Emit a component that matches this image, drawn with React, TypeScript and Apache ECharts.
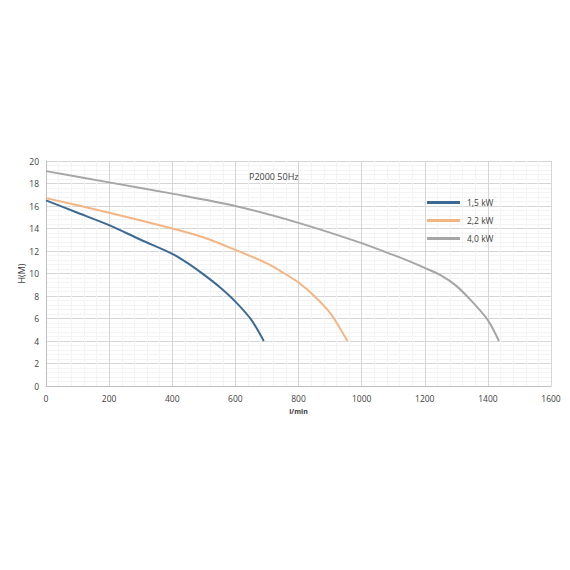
import React, { useEffect, useRef } from "react";
import * as echarts from "echarts";

const seriesNames = ["1,5 kW", "2,2 kW", "4,0 kW"];
const colors = ["#3D6A93", "#F2B584", "#A6A6A6"];

const flow15 = [0, 100, 200, 300, 400, 450, 500, 550, 600, 650, 690];
const head15 = [16.5, 15.4, 14.3, 13.0, 11.75, 10.9, 9.9, 8.8, 7.5, 5.9, 4.0];

const flow22 = [0, 200, 400, 500, 600, 700, 750, 800, 850, 900, 930, 955];
const head22 = [16.7, 15.4, 14.0, 13.2, 12.1, 10.9, 10.1, 9.2, 8.0, 6.5, 5.2, 4.0];

const flow40 = [0, 200, 400, 600, 800, 1000, 1100, 1150, 1200, 1250, 1300, 1350, 1400, 1435];
const head40 = [19.1, 18.1, 17.1, 16.0, 14.5, 12.7, 11.65, 11.1, 10.5, 9.85, 8.9, 7.5, 5.85, 4.0];

const titleText = "P2000 50Hz";
const xName = "l/min";
const yName = "H(M)";

const font = "'Open Sans', 'Noto Sans', sans-serif";

function pairs(xs: number[], ys: number[]) {
  return xs.map((x, i) => [x, ys[i]]);
}

export default function App() {
  const ref = useRef<HTMLDivElement>(null);
  useEffect(() => {
    if (!ref.current) return;
    const chart = echarts.init(ref.current, undefined, { renderer: "svg" });
    const data = [pairs(flow15, head15), pairs(flow22, head22), pairs(flow40, head40)];
    chart.setOption({
      animation: false,
      backgroundColor: "#ffffff",
      title: {
        text: titleText,
        left: 244,
        top: 167,
        textStyle: { fontFamily: font, fontSize: 9, fontWeight: "normal", color: "#404040" },
      },
      legend: {
        orient: "vertical",
        left: 422,
        top: 193,
        itemWidth: 33,
        itemHeight: 3,
        itemGap: 9,
        icon: "rect",
        textStyle: { fontFamily: font, fontSize: 8.5, color: "#404040", padding: [0, 0, 0, 2] },
        data: seriesNames,
      },
      grid: { left: 46, right: 19, top: 161, bottom: 184, containLabel: false },
      xAxis: {
        type: "value",
        min: 0,
        max: 1600,
        interval: 200,
        name: xName,
        nameLocation: "middle",
        nameGap: 22,
        nameTextStyle: { fontFamily: font, fontSize: 7, fontWeight: "bold", color: "#404040" },
        axisLine: { show: true, lineStyle: { color: "#BFBFBF" } },
        axisTick: { show: false },
        axisLabel: {
          fontFamily: font,
          fontSize: 8.5,
          color: "#404040",
          margin: 8,
          formatter: (v: number) => String(v),
        },
        splitLine: { show: true, lineStyle: { color: "#D6D6D6", width: 1 } },
        minorTick: { show: false, splitNumber: 5 },
        minorSplitLine: { show: true, lineStyle: { color: "#F4F4F4", width: 1 } },
      },
      yAxis: {
        type: "value",
        min: 0,
        max: 20,
        interval: 2,
        name: yName,
        nameLocation: "middle",
        nameGap: 20,
        nameMoveOverlap: false,
        nameRotate: 90,
        nameTextStyle: { fontFamily: font, fontSize: 9, color: "#404040" },
        axisLine: { show: true, lineStyle: { color: "#BFBFBF" } },
        axisTick: { show: false },
        axisLabel: { fontFamily: font, fontSize: 8.5, color: "#404040", margin: 7 },
        splitLine: { show: true, lineStyle: { color: "#D6D6D6", width: 1 } },
        minorTick: { show: false, splitNumber: 5 },
        minorSplitLine: { show: true, lineStyle: { color: "#F4F4F4", width: 1 } },
      },
      series: seriesNames.map((name, i) => ({
        name,
        type: "line",
        data: data[i],
        smooth: 0.3,
        showSymbol: false,
        symbol: "none",
        color: colors[i],
        lineStyle: { color: colors[i], width: 2 },
      })),
    });
    return () => chart.dispose();
  }, []);
  return (
    <div
      ref={ref}
      style={{ position: "fixed", left: 0, top: 0, width: 570, height: 570, background: "#fff" }}
    />
  );
}
